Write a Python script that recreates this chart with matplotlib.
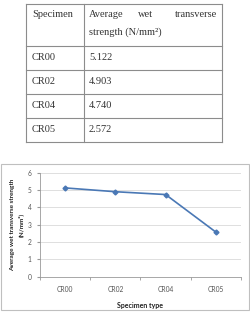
import matplotlib.pyplot as plt
from matplotlib.patches import Rectangle

# table / chart data
specimens = ["CR00", "CR02", "CR04", "CR05"]
strength = [5.122, 4.903, 4.740, 2.572]
value_labels = ["5.122", "4.903", "4.740", "2.572"]
y_ticks = [0, 1, 2, 3, 4, 5, 6]

W, H = 251, 313
fig = plt.figure(figsize=(W / 100, H / 100), dpi=100)

# --- overlay in pixel coords for the table and chart frame ---
bg = fig.add_axes([0, 0, 1, 1])
bg.set_xlim(0, W); bg.set_ylim(H, 0); bg.axis("off")

tcol = "#333333"
lc = "#8c8c8c"
serif = "Liberation Serif"
x0, xm, x1 = 26, 84, 222.5
rows = [4, 46, 70, 94, 118, 142]
for y in rows:
    bg.plot([x0, x1], [y, y], color=lc, lw=0.8)
for x in (x0, xm, x1):
    bg.plot([x, x], [rows[0], rows[-1]], color=lc, lw=0.8)

fs = 7.5
bg.text(32, 14.5, "Specimen", fontsize=fs, family=serif, color=tcol, va="center")
bg.text(89, 14.5, "Average", fontsize=fs, family=serif, color=tcol, va="center")
bg.text(146, 14.5, "wet", fontsize=fs, family=serif, color=tcol, va="center", ha="center")
bg.text(217, 14.5, "transverse", fontsize=fs, family=serif, color=tcol, va="center", ha="right")
bg.text(89, 32, "strength (N/mm²)", fontsize=fs, family=serif, color=tcol, va="center")
for i, (s, v) in enumerate(zip(specimens, value_labels)):
    yc = (rows[i + 1] + rows[i + 2]) / 2
    bg.text(32, yc, s, fontsize=fs, family=serif, color=tcol, va="center")
    bg.text(89, yc, v, fontsize=fs, family=serif, color=tcol, va="center")

bg.add_patch(Rectangle((0.5, 164), 248.5, 146, fill=False, ec="#bfbfbf", lw=0.8))

# --- line chart ---
sans = "Lato"
ax = fig.add_axes([40 / W, 1 - 276.7 / H, 201 / W, 104 / H])
xs = list(range(len(specimens)))
ax.plot(xs, strength, color="#4a78b5", lw=1.2, marker="D", ms=2.5)
ax.set_xlim(-0.5, len(specimens) - 0.5)
ax.set_ylim(0, 6)
ax.set_yticks(y_ticks)
ax.set_xticks(xs)
ax.set_xticklabels(specimens)
ax.set_xticks([i + 0.5 for i in range(-1, len(specimens))], minor=True)
ax.tick_params(axis="x", which="major", length=0, labelsize=4.8, labelcolor="#555555", pad=7)
ax.tick_params(axis="x", which="minor", length=2, color="#999999")
ax.tick_params(axis="y", length=2, color="#999999", labelsize=4.8, labelcolor="#555555", pad=4)
for lab in ax.get_xticklabels() + ax.get_yticklabels():
    lab.set_family(sans)
ax.grid(axis="y", color="#d9d9d9", lw=0.6)
ax.set_axisbelow(True)
for s in ("top", "right"):
    ax.spines[s].set_visible(False)
for s in ("left", "bottom"):
    ax.spines[s].set_color("#999999")
    ax.spines[s].set_linewidth(0.6)

ax.set_ylabel("Average wet transverse strength\n(N/mm²)", fontsize=4.6, family=sans,
              fontweight="bold", color="#222222", labelpad=3, linespacing=1.5)
ax.set_xlabel("Specimen type", fontsize=5, family=sans, fontweight="bold",
              color="#222222", labelpad=6)

fig.savefig("out.png", dpi=100)
